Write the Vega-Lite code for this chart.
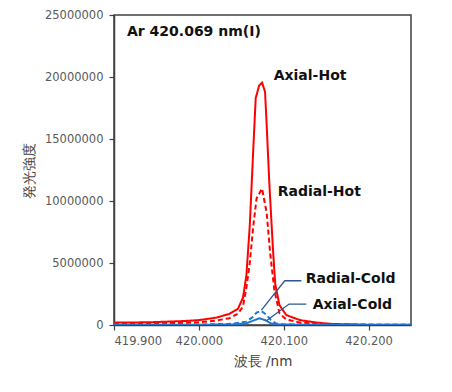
{
  "$schema": "https://vega.github.io/schema/vega-lite/v6.json",
  "width": 297,
  "height": 310,
  "autosize": {"type": "none"},
  "padding": {"left": 114, "top": 15, "right": 41, "bottom": 67},
  "background": "white",
  "config": {
    "view": {"stroke": "#404040", "strokeWidth": 1.5},
    "font": "DejaVu Sans",
    "axis": {
      "grid": false,
      "domainColor": "#404040",
      "domainWidth": 1.5,
      "tickColor": "#404040",
      "tickSize": 5,
      "tickWidth": 1.2,
      "labelColor": "#595959",
      "labelFont": "DejaVu Sans",
      "labelFontSize": 11.5,
      "titleColor": "#404040",
      "titleFont": "DejaVu Sans",
      "titleFontSize": 13.5,
      "titleFontWeight": "normal"
    }
  },
  "datasets": {
    "spectra": [
      {"series": "Axial-Hot", "wl": 419.900, "v": 190000},
      {"series": "Axial-Hot", "wl": 419.942, "v": 220000},
      {"series": "Axial-Hot", "wl": 419.982, "v": 320000},
      {"series": "Axial-Hot", "wl": 420.001, "v": 400000},
      {"series": "Axial-Hot", "wl": 420.021, "v": 600000},
      {"series": "Axial-Hot", "wl": 420.036, "v": 900000},
      {"series": "Axial-Hot", "wl": 420.046, "v": 1300000},
      {"series": "Axial-Hot", "wl": 420.052, "v": 2200000},
      {"series": "Axial-Hot", "wl": 420.056, "v": 4000000},
      {"series": "Axial-Hot", "wl": 420.060, "v": 8000000},
      {"series": "Axial-Hot", "wl": 420.064, "v": 14000000},
      {"series": "Axial-Hot", "wl": 420.067, "v": 18300000},
      {"series": "Axial-Hot", "wl": 420.071, "v": 19300000},
      {"series": "Axial-Hot", "wl": 420.0745, "v": 19550000},
      {"series": "Axial-Hot", "wl": 420.078, "v": 18800000},
      {"series": "Axial-Hot", "wl": 420.080, "v": 16000000},
      {"series": "Axial-Hot", "wl": 420.083, "v": 11500000},
      {"series": "Axial-Hot", "wl": 420.087, "v": 6500000},
      {"series": "Axial-Hot", "wl": 420.090, "v": 3300000},
      {"series": "Axial-Hot", "wl": 420.095, "v": 1600000},
      {"series": "Axial-Hot", "wl": 420.103, "v": 800000},
      {"series": "Axial-Hot", "wl": 420.119, "v": 400000},
      {"series": "Axial-Hot", "wl": 420.138, "v": 200000},
      {"series": "Axial-Hot", "wl": 420.158, "v": 80000},
      {"series": "Axial-Hot", "wl": 420.197, "v": 30000},
      {"series": "Axial-Hot", "wl": 420.250, "v": 10000},
      {"series": "Radial-Hot", "wl": 419.900, "v": 80000},
      {"series": "Radial-Hot", "wl": 419.950, "v": 120000},
      {"series": "Radial-Hot", "wl": 420.000, "v": 220000},
      {"series": "Radial-Hot", "wl": 420.020, "v": 350000},
      {"series": "Radial-Hot", "wl": 420.036, "v": 550000},
      {"series": "Radial-Hot", "wl": 420.046, "v": 900000},
      {"series": "Radial-Hot", "wl": 420.052, "v": 1500000},
      {"series": "Radial-Hot", "wl": 420.056, "v": 3000000},
      {"series": "Radial-Hot", "wl": 420.060, "v": 5000000},
      {"series": "Radial-Hot", "wl": 420.064, "v": 7900000},
      {"series": "Radial-Hot", "wl": 420.068, "v": 10200000},
      {"series": "Radial-Hot", "wl": 420.0745, "v": 11000000},
      {"series": "Radial-Hot", "wl": 420.080, "v": 9000000},
      {"series": "Radial-Hot", "wl": 420.084, "v": 5800000},
      {"series": "Radial-Hot", "wl": 420.089, "v": 2800000},
      {"series": "Radial-Hot", "wl": 420.095, "v": 940000},
      {"series": "Radial-Hot", "wl": 420.103, "v": 450000},
      {"series": "Radial-Hot", "wl": 420.120, "v": 190000},
      {"series": "Radial-Hot", "wl": 420.150, "v": 60000},
      {"series": "Radial-Hot", "wl": 420.200, "v": 20000},
      {"series": "Radial-Hot", "wl": 420.250, "v": 10000},
      {"series": "Radial-Cold", "wl": 419.900, "v": 20000},
      {"series": "Radial-Cold", "wl": 420.000, "v": 40000},
      {"series": "Radial-Cold", "wl": 420.040, "v": 100000},
      {"series": "Radial-Cold", "wl": 420.056, "v": 270000},
      {"series": "Radial-Cold", "wl": 420.064, "v": 670000},
      {"series": "Radial-Cold", "wl": 420.068, "v": 1000000},
      {"series": "Radial-Cold", "wl": 420.0735, "v": 1150000},
      {"series": "Radial-Cold", "wl": 420.080, "v": 800000},
      {"series": "Radial-Cold", "wl": 420.085, "v": 400000},
      {"series": "Radial-Cold", "wl": 420.091, "v": 130000},
      {"series": "Radial-Cold", "wl": 420.100, "v": 50000},
      {"series": "Radial-Cold", "wl": 420.150, "v": 20000},
      {"series": "Radial-Cold", "wl": 420.250, "v": 10000},
      {"series": "Axial-Cold", "wl": 419.900, "v": 10000},
      {"series": "Axial-Cold", "wl": 420.000, "v": 20000},
      {"series": "Axial-Cold", "wl": 420.040, "v": 50000},
      {"series": "Axial-Cold", "wl": 420.056, "v": 130000},
      {"series": "Axial-Cold", "wl": 420.064, "v": 350000},
      {"series": "Axial-Cold", "wl": 420.071, "v": 540000},
      {"series": "Axial-Cold", "wl": 420.078, "v": 400000},
      {"series": "Axial-Cold", "wl": 420.085, "v": 130000},
      {"series": "Axial-Cold", "wl": 420.095, "v": 40000},
      {"series": "Axial-Cold", "wl": 420.150, "v": 10000},
      {"series": "Axial-Cold", "wl": 420.250, "v": 5000}
    ],
    "leaders": [
      {"id": "RC", "wl": 420.0737, "v": 1200000, "o": 1},
      {"id": "RC", "wl": 420.1012, "v": 3570000, "o": 2},
      {"id": "RC", "wl": 420.1208, "v": 3570000, "o": 3},
      {"id": "AC", "wl": 420.0796, "v": 350000, "o": 1},
      {"id": "AC", "wl": 420.1063, "v": 1690000, "o": 2},
      {"id": "AC", "wl": 420.1267, "v": 1690000, "o": 3}
    ],
    "labels": [
      {"t": "Axial-Hot", "wl": 420.0882, "v": 20080000},
      {"t": "Radial-Hot", "wl": 420.0929, "v": 10730000},
      {"t": "Radial-Cold", "wl": 420.1259, "v": 3710000},
      {"t": "Axial-Cold", "wl": 420.1341, "v": 1610000},
      {"t": "Ar 420.069 nm(I)", "wl": 419.9153, "v": 23630000}
    ]
  },
  "layer": [
    {
      "data": {"name": "spectra"},
      "mark": {"type": "line", "strokeWidth": 2, "clip": true},
      "encoding": {
        "x": {
          "field": "wl", "type": "quantitative",
          "scale": {"domain": [419.9, 420.25], "nice": false, "zero": false},
          "axis": {"values": [419.9, 420.0, 420.1, 420.2], "format": ".3f", "title": "波長 /nm", "labelPadding": 5, "titlePadding": 8}
        },
        "y": {
          "field": "v", "type": "quantitative",
          "scale": {"domain": [0, 25000000], "nice": false},
          "axis": {"values": [0, 5000000, 10000000, 15000000, 20000000, 25000000], "format": "d", "title": "発光強度", "labelPadding": 6, "titlePadding": 8}
        },
        "color": {
          "field": "series", "type": "nominal", "legend": null,
          "scale": {"domain": ["Axial-Hot", "Radial-Hot", "Radial-Cold", "Axial-Cold"], "range": ["#FF0000", "#FF0000", "#1F77D0", "#1F77D0"]}
        },
        "strokeDash": {
          "field": "series", "type": "nominal", "legend": null,
          "scale": {"domain": ["Axial-Hot", "Radial-Hot", "Radial-Cold", "Axial-Cold"], "range": [[1, 0], [5, 3], [5, 3], [1, 0]]}
        },
        "order": {"field": "wl", "type": "quantitative"}
      }
    },
    {
      "data": {"name": "leaders"},
      "mark": {"type": "line", "strokeWidth": 1.3, "color": "#2F5597"},
      "encoding": {
        "x": {"field": "wl", "type": "quantitative"},
        "y": {"field": "v", "type": "quantitative"},
        "detail": {"field": "id"},
        "order": {"field": "o", "type": "quantitative"}
      }
    },
    {
      "data": {"name": "labels"},
      "mark": {"type": "text", "align": "left", "baseline": "middle", "fontSize": 14, "fontWeight": "bold", "font": "DejaVu Sans", "color": "#111111"},
      "encoding": {
        "x": {"field": "wl", "type": "quantitative"},
        "y": {"field": "v", "type": "quantitative"},
        "text": {"field": "t"}
      }
    }
  ]
}
